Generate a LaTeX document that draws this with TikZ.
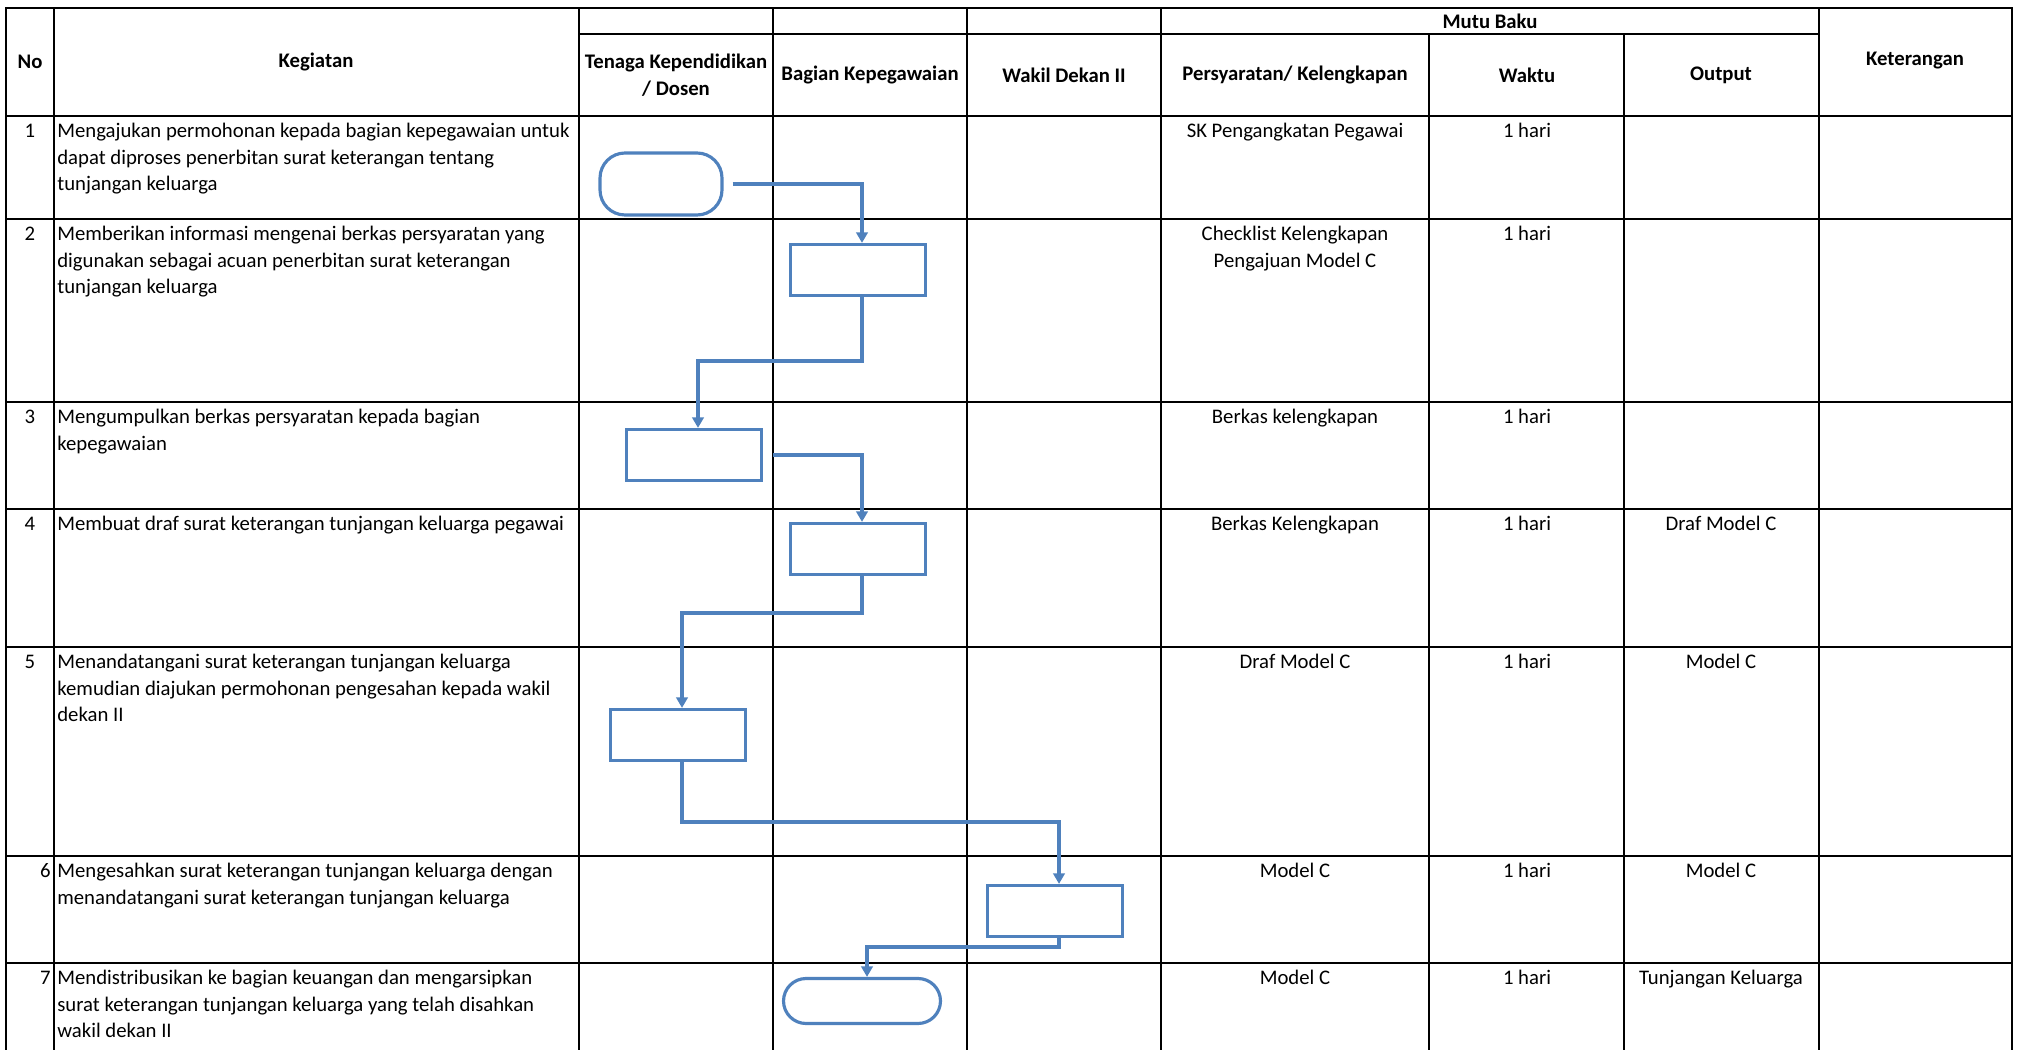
\documentclass[tikz,border=0pt]{standalone}
\usepackage{fontspec}
\setmainfont{Carlito}
\usetikzlibrary{arrows.meta}
\definecolor{flow}{HTML}{4F81BD}
\begin{document}
\begin{tikzpicture}[x=0.02cm,y=-0.02cm,
  grid/.style={line width=1.3pt,black,line cap=rect},
  hd/.style={inner sep=0pt,font=\fontsize{11.8}{15.3}\selectfont\bfseries,align=center},
  cellc/.style={inner sep=0pt,font=\fontsize{11.8}{15.3}\selectfont,align=center,anchor=north},
  celll/.style={inner sep=0pt,font=\fontsize{11.8}{15.3}\selectfont,align=left,anchor=north west},
  cellr/.style={inner sep=0pt,font=\fontsize{11.8}{15.3}\selectfont,align=right,anchor=north east},
  procbox/.style={draw=flow,line width=1.8pt,minimum width=2.7cm,minimum height=1.02cm,inner sep=0pt},
  termbox/.style={draw=flow,line width=1.8pt,inner sep=0pt},
  conn/.style={draw=flow,line width=2.1pt,-{Triangle[length=6pt,width=6.5pt]}}]
\useasboundingbox (0,0) rectangle (2021,1050);
% grid
\draw[grid] (6,8) -- (2012,8);
\draw[grid] (579,34) -- (1819,34);
\foreach \yy in {116,219,402,509,647,856,963} \draw[grid] (6,\yy) -- (2012,\yy);
\foreach \xx in {6,54,579,773,967,1161,1819,2012} \draw[grid] (\xx,8) -- (\xx,1050);
\foreach \xx in {1429,1624} \draw[grid] (\xx,34) -- (\xx,1050);
% header
\node[hd] (hNo) at (30,62) {No};
\node[hd] (hKeg) at (316,62) {Kegiatan};
\node[hd] (hTen) at (676,75) {Tenaga Kependidikan\\/ Dosen};
\node[hd] (hBag) at (870,75) {Bagian Kepegawaian};
\node[hd] (hWak) at (1064,75) {Wakil Dekan II};
\node[hd] (hMutu) at (1490,21) {Mutu Baku};
\node[hd] (hPer) at (1295,75) {Persyaratan/ Kelengkapan};
\node[hd] (hWak2) at (1527,75) {Waktu};
\node[hd] (hOut) at (1721,75) {Output};
\node[hd] (hKet) at (1915,61) {Keterangan};
% numbers
\node[cellc] (n1) at (30,118) {\strut 1};
\node[cellc] (n2) at (30,221) {\strut 2};
\node[cellc] (n3) at (30,404) {\strut 3};
\node[cellc] (n4) at (30,511) {\strut 4};
\node[cellc] (n5) at (30,649) {\strut 5};
\node[cellr] (n6) at (51,858) {\strut 6};
\node[cellr] (n7) at (51,965) {\strut 7};
% kegiatan
\node[celll] (k1) at (57,118) {\strut Mengajukan permohonan kepada bagian kepegawaian untuk\\dapat diproses penerbitan surat keterangan tentang\\tunjangan keluarga};
\node[celll] (k2) at (57,221) {\strut Memberikan informasi mengenai berkas persyaratan yang\\digunakan sebagai acuan penerbitan surat keterangan\\tunjangan keluarga};
\node[celll] (k3) at (57,404) {\strut Mengumpulkan berkas persyaratan kepada bagian\\kepegawaian};
\node[celll] (k4) at (57,511) {\strut Membuat draf surat keterangan tunjangan keluarga pegawai};
\node[celll] (k5) at (57,649) {\strut Menandatangani surat keterangan tunjangan keluarga\\kemudian diajukan permohonan pengesahan kepada wakil\\dekan II};
\node[celll] (k6) at (57,858) {\strut Mengesahkan surat keterangan tunjangan keluarga dengan\\menandatangani surat keterangan tunjangan keluarga};
\node[celll] (k7) at (57,965) {\strut Mendistribusikan ke bagian keuangan dan mengarsipkan\\surat keterangan tunjangan keluarga yang telah disahkan\\wakil dekan II};
% persyaratan
\node[cellc] (p1) at (1295,118) {\strut SK Pengangkatan Pegawai};
\node[cellc] (p2) at (1295,221) {\strut Checklist Kelengkapan\\Pengajuan Model C};
\node[cellc] (p3) at (1295,404) {\strut Berkas kelengkapan};
\node[cellc] (p4) at (1295,511) {\strut Berkas Kelengkapan};
\node[cellc] (p5) at (1295,649) {\strut Draf Model C};
\node[cellc] (p6) at (1295,858) {\strut Model C};
\node[cellc] (p7) at (1295,965) {\strut Model C};
% waktu
\node[cellc] (w1) at (1527,118) {\strut 1 hari};
\node[cellc] (w2) at (1527,221) {\strut 1 hari};
\node[cellc] (w3) at (1527,404) {\strut 1 hari};
\node[cellc] (w4) at (1527,511) {\strut 1 hari};
\node[cellc] (w5) at (1527,649) {\strut 1 hari};
\node[cellc] (w6) at (1527,858) {\strut 1 hari};
\node[cellc] (w7) at (1527,965) {\strut 1 hari};
% output
\node[cellc] (o4) at (1721,511) {\strut Draf Model C};
\node[cellc] (o5) at (1721,649) {\strut Model C};
\node[cellc] (o6) at (1721,858) {\strut Model C};
\node[cellc] (o7) at (1721,965) {\strut Tunjangan Keluarga};
% flow shapes
\node[termbox,minimum width=2.44cm,minimum height=1.24cm,rounded corners=0.5cm] (s1) at (661,184) {};
\node[procbox] (b2) at (858,270) {};
\node[procbox] (b3) at (694,455) {};
\node[procbox] (b4) at (858,549) {};
\node[procbox] (b5) at (678,735) {};
\node[procbox] (b6) at (1055,911) {};
\node[termbox,minimum width=3.14cm,minimum height=0.9cm,rounded corners=0.45cm] (e7) at (862,1001) {};
% elbow levels
\coordinate (y23) at (0,361);
\coordinate (y45) at (0,613);
\coordinate (y56) at (0,822);
\coordinate (y67) at (0,947);
% connectors
\draw[conn,shorten <=0.18cm] (s1.east) -| ([xshift=0.08cm]b2.north);
\draw[conn] ([xshift=0.08cm]b2.south) -- ([xshift=0.08cm]b2.south |- y23) -| ([xshift=0.08cm]b3.north);
\draw[conn,shorten <=0.2cm] (b3.east) -| ([xshift=0.08cm]b4.north);
\draw[conn] ([xshift=0.08cm]b4.south) -- ([xshift=0.08cm]b4.south |- y45) -| ([xshift=0.08cm]b5.north);
\draw[conn] ([xshift=0.08cm]b5.south) -- ([xshift=0.08cm]b5.south |- y56) -| ([xshift=0.08cm]b6.north);
\draw[conn] ([xshift=0.08cm]b6.south) -- ([xshift=0.08cm]b6.south |- y67) -| ([xshift=0.1cm]e7.north);
\end{tikzpicture}
\end{document}
